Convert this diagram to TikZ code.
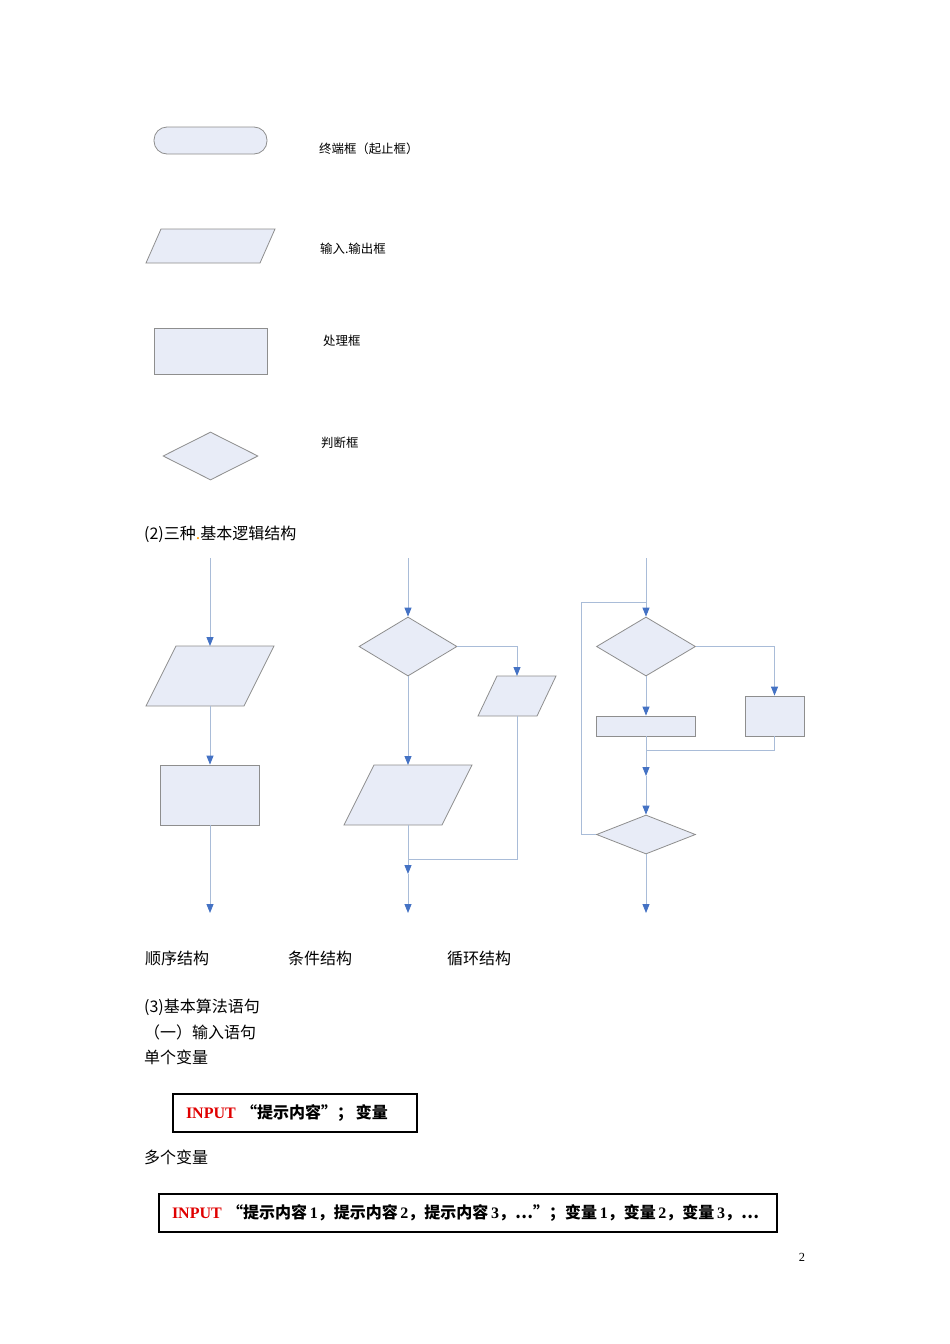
\documentclass[tikz,border=0pt]{standalone}
\usepackage{fontspec}
\setmainfont{Liberation Serif}
\newfontfamily\cjk{Noto Sans CJK SC}
\usetikzlibrary{shapes.geometric,arrows.meta,calc}
\definecolor{shapefill}{HTML}{E8ECF7}
\definecolor{shapedraw}{HTML}{8E8E8E}
\definecolor{linec}{HTML}{A9BCD8}
\definecolor{tipc}{HTML}{4472C4}
\definecolor{inputred}{HTML}{E00000}
\newcommand\ftbig{\fontsize{16}{19}\selectfont}
\newcommand\ftsmall{\fontsize{12.4}{14}\selectfont}
\begin{document}
\begin{tikzpicture}[x=1pt,y=-1pt,
  shp/.style={fill=shapefill,draw=shapedraw,line width=0.8pt,inner sep=0pt},
  inv/.style={inner sep=0pt,outer sep=0pt,rectangle},
  pgram/.style={fill=shapefill,draw=shapedraw,line width=0.8pt},
  conn/.style={draw=linec,line width=0.9pt},
  arr/.style={conn,-{Triangle[width=7pt,length=9pt,color=tipc]}},
  lbl/.style={anchor=west,inner sep=0pt,font=\cjk\ftsmall},
  txt/.style={anchor=west,inner sep=0pt,font=\cjk\ftbig},
  codebox/.style={draw=black,line width=2pt,anchor=west,inner xsep=13pt,inner ysep=0pt,minimum height=38pt,align=left,font=\ftbig\bfseries}
]
\fill[white] (0,0) rectangle (950,1344);
\useasboundingbox (0,0) rectangle (950,1344);

% ---------- legend ----------
\node[shp,rounded corners=13pt,minimum width=113pt,minimum height=27pt] (term) at (210.5,140.5) {};
\node[lbl] (termlbl) at (319,149) {终端框（起止框）};

\node[inv,minimum width=129pt,minimum height=34pt] (io) at (210.5,246) {};
\draw[pgram] ($(io.north west)+(15,0)$) -- (io.north east) -- ($(io.south east)-(15,0)$) -- (io.south west) -- cycle;
\node[lbl] (iolbl) at (320,249) {输入.输出框};

\node[shp,minimum width=113pt,minimum height=46pt] (proc) at (210.5,351) {};
\node[lbl] (proclbl) at (323,341) {处理框};

\node[shp,diamond,minimum width=95pt,minimum height=48pt] (dec) at (210.5,456) {};
\node[lbl] (declbl) at (321,443) {判断框};

\node[txt] (title2) at (144,534) {(2)三种{\color{orange!80!yellow}.}基本逻辑结构};

% ---------- sequence ----------
\coordinate (s0) at (210,558);
\node[inv,minimum width=128pt,minimum height=60pt] (sp) at (210,676) {};
\draw[pgram] ($(sp.north west)+(30,0)$) -- (sp.north east) -- ($(sp.south east)-(30,0)$) -- (sp.south west) -- cycle;
\node[shp,minimum width=99pt,minimum height=60pt] (sr) at (210,795) {};
\coordinate (s1) at (210,913);
\draw[arr] (s0) -- (sp.north);
\draw[arr] (sp.south) -- (sr.north);
\draw[arr] (sr.south) -- (s1);

% ---------- condition ----------
\coordinate (c0) at (408,558);
\node[shp,diamond,minimum width=98pt,minimum height=59pt] (cd) at (408,646.5) {};
\node[inv,minimum width=78pt,minimum height=40pt] (cp2) at (517,696) {};
\draw[pgram] ($(cp2.north west)+(19,0)$) -- (cp2.north east) -- ($(cp2.south east)-(19,0)$) -- (cp2.south west) -- cycle;
\node[inv,minimum width=128pt,minimum height=60pt] (cp1) at (408,795) {};
\draw[pgram] ($(cp1.north west)+(30,0)$) -- (cp1.north east) -- ($(cp1.south east)-(30,0)$) -- (cp1.south west) -- cycle;
\coordinate (cm) at (408,859);
\coordinate (c2) at (408,874);
\coordinate (c3) at (408,913);
\draw[arr] (c0) -- (cd.north);
\draw[arr] (cd.east) -| (cp2.north);
\draw[arr] (cd.south) -- (cp1.north);
\draw[conn] (cp2.south) |- (cm);
\draw[conn] (cp1.south) -- (cm);
\draw[arr] (cm) -- (c2);
\draw[arr] (c2) -- (c3);

% ---------- loop ----------
\coordinate (l0) at (646,558);
\coordinate (ltop) at (646,602);
\node[shp,diamond,minimum width=99pt,minimum height=59pt] (ld1) at (646,646.5) {};
\node[shp,minimum width=99pt,minimum height=20pt] (lr1) at (646,726) {};
\node[shp,minimum width=59pt,minimum height=40pt] (lr2) at (774.5,716) {};
\coordinate (lm) at (646,750);
\coordinate (lm2) at (646,776);
\node[shp,diamond,minimum width=99pt,minimum height=39pt] (ld2) at (646,834.5) {};
\coordinate (lend) at (646,913);
\coordinate (lc) at (581.5,834.5);
\draw[conn] (l0) -- (ltop);
\draw[arr] (ltop) -- (ld1.north);
\draw[arr] (ld1.east) -| (lr2.north);
\draw[arr] (ld1.south) -- (lr1.north);
\draw[conn] (lr2.south) |- (lm);
\draw[conn] (lr1.south) -- (lm);
\draw[arr] (lm) -- (lm2);
\draw[arr] (lm2) -- (ld2.north);
\draw[arr] (ld2.south) -- (lend);
\draw[conn] (ld2.west) -- (lc) |- (ltop);

% ---------- captions ----------
\node[txt] (cap1) at (145,958) {顺序结构};
\node[txt] (cap2) at (288,958) {条件结构};
\node[txt] (cap3) at (447,958) {循环结构};

\node[txt] (title3) at (144,1007) {(3)基本算法语句};
\node[txt] (sub1) at (144,1032) {（一）输入语句};
\node[txt] (single) at (144,1057) {单个变量};

\node[codebox,text width=218pt] (box1) at (172,1113) {{\color{inputred}INPUT}\ {\cjk\bfseries “提示内容”；\,变量}};

\node[txt] (multi) at (144,1157) {多个变量};

\node[codebox,text width=592pt] (box2) at (158,1213) {{\color{inputred}INPUT}\ {\cjk\bfseries “提示内容}\,1{\cjk\bfseries ，提示内容}\,2{\cjk\bfseries ，提示内容}\,3{\cjk\bfseries ，⋯”；变量}\,1{\cjk\bfseries ，变量}\,2{\cjk\bfseries ，变量}\,3{\cjk\bfseries ，⋯}};

\node[anchor=center,inner sep=0pt,font=\ftsmall] (pageno) at (802,1257) {2};
\end{tikzpicture}
\end{document}
